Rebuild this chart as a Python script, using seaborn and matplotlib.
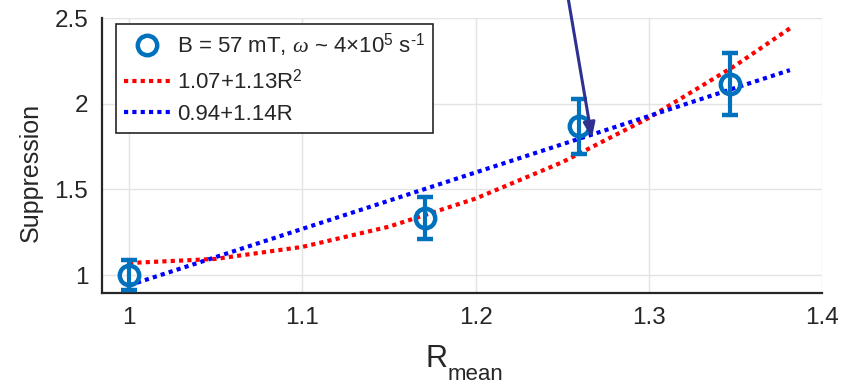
import matplotlib
matplotlib.use("Agg")
import matplotlib.pyplot as plt
from matplotlib.lines import Line2D
import seaborn as sns
import pandas as pd

# measured data
r_mean = [1.0, 1.171, 1.260, 1.347]
suppression = [1.00, 1.333, 1.869, 2.114]
err = [0.09, 0.12, 0.16, 0.18]

# fit curves
red_x = [1.0, 1.05, 1.10, 1.15, 1.20, 1.25, 1.30, 1.35, 1.3815]
red_y = [1.07, 1.094, 1.164, 1.282, 1.446, 1.658, 1.917, 2.223, 2.44]
blue_x = [1.0, 1.3815]
blue_y = [0.94, 2.196]

label_data = r"B = 57 mT, $\omega$ ~ 4×10$^{5}$ s$^{\mathregular{‐1}}$"
label_red = r"1.07+1.13R$^{2}$"
label_blue = "0.94+1.14R"

sns.set_style("white")
plt.rcParams['font.family'] = ['Liberation Sans', 'DejaVu Sans']
plt.rcParams['mathtext.fontset'] = 'custom'
plt.rcParams['mathtext.rm'] = 'Liberation Sans'
plt.rcParams['mathtext.it'] = 'Liberation Serif:italic'

W, H = 846, 384
fig = plt.figure(figsize=(W / 100, H / 100), dpi=100)
ax = fig.add_axes([0.1206, 0.237, 0.9716 - 0.1206, 0.953 - 0.237])

dark = "#262626"
mblue = "#0072BD"

df_red = pd.DataFrame({"x": red_x, "y": red_y})
df_blue = pd.DataFrame({"x": blue_x, "y": blue_y})
sns.lineplot(data=df_red, x="x", y="y", ax=ax, color="#FF0000", lw=3,
             linestyle=(0, (1, 1)), sort=True, zorder=3)
sns.lineplot(data=df_blue, x="x", y="y", ax=ax, color="#0000FF", lw=3,
             linestyle=(0, (1, 1)), zorder=3)

ax.errorbar(r_mean, suppression, yerr=err, fmt="o", color=mblue, mfc="none",
            mec=mblue, ms=14, mew=3.2, elinewidth=3, capsize=6, capthick=3,
            zorder=4)

ax.set_xlim(0.9844, 1.4)
ax.set_ylim(0.895, 2.5)
ax.set_xticks([1, 1.1, 1.2, 1.3, 1.4])
ax.set_xticklabels(["1", "1.1", "1.2", "1.3", "1.4"])
ax.set_yticks([1, 1.5, 2, 2.5])
ax.set_yticklabels(["1", "1.5", "2", "2.5"])
ax.grid(True, color="#e3e3e3", lw=1)
ax.set_axisbelow(True)
for s in ["top", "right"]:
    ax.spines[s].set_visible(False)
for s in ["left", "bottom"]:
    ax.spines[s].set_color(dark)
    ax.spines[s].set_linewidth(1.6)
ax.tick_params(direction="in", length=7, width=1.6, color=dark,
               labelsize=17.5, labelcolor=dark, pad=10)

# x label: R with a large "mean" subscript, as in the reference
ax.set_xlabel("")
fig.text(426 / W, 1 - 367 / H, "R", fontsize=22, color=dark,
         ha="left", va="baseline")
fig.text(448 / W, 1 - 380 / H, "mean", fontsize=16, color=dark,
         ha="left", va="baseline")

ax.set_ylabel("Suppression", fontsize=18, color=dark)
ax.yaxis.set_label_coords((43 - 102) / 720, (293 - 172) / 275)

handles = [
    Line2D([], [], ls="none", marker="o", ms=14, mfc="none", mec=mblue, mew=3.2),
    Line2D([], [], color="#FF0000", lw=3, ls=(0, (1, 1))),
    Line2D([], [], color="#0000FF", lw=3, ls=(0, (1, 1))),
]
leg = ax.legend(handles, [label_data, label_red, label_blue],
                loc="upper left", bbox_to_anchor=(116 / W, 1 - 24 / H),
                bbox_transform=fig.transFigure, fontsize=16, frameon=True,
                fancybox=False, edgecolor=dark, framealpha=1,
                handlelength=2.1, handletextpad=0.3, borderpad=0.35,
                labelspacing=0.45, borderaxespad=0)
leg.get_frame().set_linewidth(1.2)

ax.annotate("", xy=(1.2672, 1.80), xytext=(1.2534, 2.62),
            xycoords="data", textcoords="data", annotation_clip=False,
            arrowprops=dict(arrowstyle="-|>,head_length=0.9,head_width=0.35",
                            color="#2E3192", lw=2.2, shrinkA=0, shrinkB=0),
            zorder=6)

fig.savefig("out.png", dpi=100)
